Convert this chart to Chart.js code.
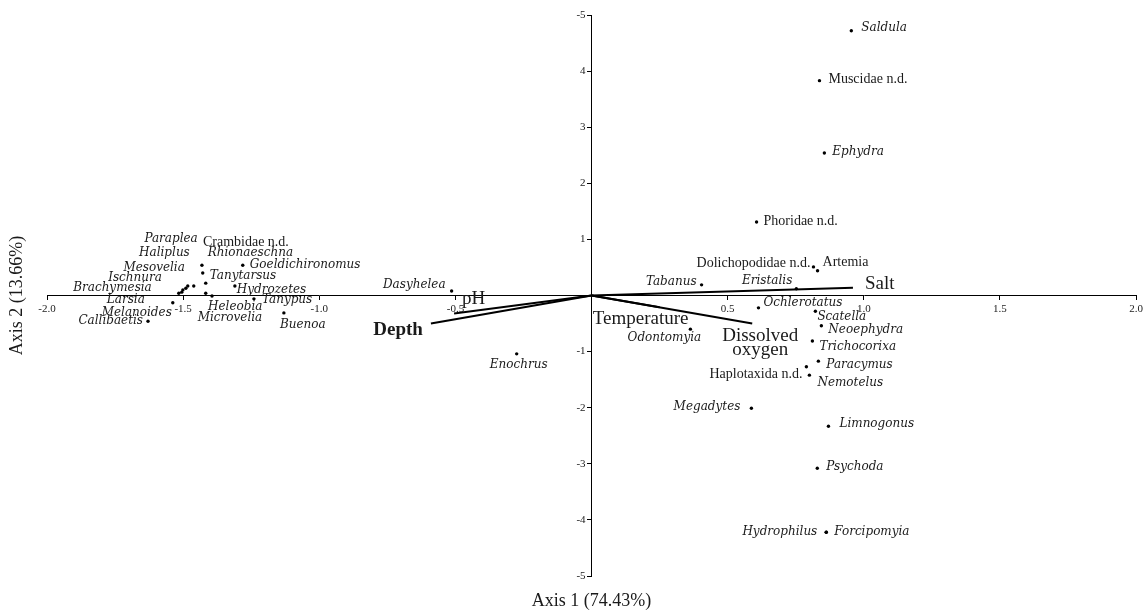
<!DOCTYPE html>
<html>
<head>
<meta charset="utf-8">
<script src="https://cdn.jsdelivr.net/npm/chart.js@4.4.1/dist/chart.umd.min.js"></script>
<style>
  html, body { margin: 0; padding: 0; background: #fff; }
  #wrap { width: 1146px; height: 611px; }
</style>
</head>
<body>
<div id="wrap"><canvas id="cca" width="1146" height="611"></canvas></div>
<script>
// ---- CCA biplot data ----
const taxa = [
  'Saldula', 'Muscidae n.d.', 'Ephydra', 'Phoridae n.d.', 'Dolichopodidae n.d.', 'Artemia',
  'Tabanus', 'Eristalis', 'Ochlerotatus', 'Scatella', 'Neoephydra', 'Trichocorixa',
  'Paracymus', 'Haplotaxida n.d.', 'Nemotelus', 'Odontomyia', 'Megadytes', 'Limnogonus',
  'Psychoda', 'Forcipomyia', 'Hydrophilus', 'Dasyhelea', 'Enochrus',
  'Goeldichironomus', 'Crambidae n.d.', 'Tanytarsus', 'Rhionaeschna', 'Paraplea', 'Haliplus',
  'Mesovelia', 'Ischnura', 'Brachymesia', 'Larsia', 'Hydrozetes', 'Heleobia', 'Microvelia',
  'Tanypus', 'Buenoa', 'Melanoides', 'Callibaetis'
];
const taxaAxis1 = [
  0.954, 0.837, 0.855, 0.606, 0.815, 0.830,
  0.404, 0.752, 0.613, 0.822, 0.844, 0.811,
  0.833, 0.789, 0.800, 0.363, 0.587, 0.870,
  0.829, 0.862, 0.862, -0.514, -0.275,
  -1.281, -1.431, -1.428, -1.417, -1.461, -1.483,
  -1.490, -1.501, -1.505, -1.516, -1.310, -1.394, -1.417,
  -1.240, -1.130, -1.538, -1.629
];
const taxaAxis2 = [
  4.72, 3.83, 2.54, 1.31, 0.51, 0.44,
  0.19, 0.12, -0.22, -0.28, -0.54, -0.81,
  -1.17, -1.27, -1.42, -0.60, -2.01, -2.33,
  -3.08, -4.22, -4.22, 0.08, -1.04,
  0.54, 0.54, 0.40, 0.22, 0.17, 0.17,
  0.13, 0.10, 0.06, 0.04, 0.17, -0.01, 0.04,
  -0.06, -0.31, -0.13, -0.46
];

// environmental variables (biplot arrows)
const envVars = ['Salt', 'Temperature', 'Dissolved oxygen', 'pH', 'Depth'];
const envAxis1 = [0.96, 0.25, 0.59, -0.505, -0.59];
const envAxis2 = [0.14, -0.21, -0.50, -0.32, -0.50];

// axis ticks
const xTicks = [-2.0, -1.5, -1.0, -0.5, 0, 0.5, 1.0, 1.5, 2.0];
const yTicks = [-5, -4, -3, -2, -1, 0, 1, 2, 3, 4, 5];
const yTickText = ['-5', '-4', '-3', '-2', '-1', '', '1', '2', '3', '4', '-5'];

// ---- label styling / placement (pixels from the point) ----
const romanTaxa = ['Muscidae n.d.', 'Phoridae n.d.', 'Dolichopodidae n.d.', 'Artemia', 'Haplotaxida n.d.', 'Crambidae n.d.'];
const taxaLabelPos = {
  'Saldula': [10, -3, 'left'], 'Muscidae n.d.': [9, -1, 'left'], 'Ephydra': [8, -1, 'left'],
  'Phoridae n.d.': [7, -1, 'left'], 'Dolichopodidae n.d.': [-3, -4, 'right'], 'Artemia': [5, -8, 'left'],
  'Tabanus': [-5, -3, 'right'], 'Eristalis': [-4, -8, 'right'], 'Ochlerotatus': [5, -5, 'left'],
  'Scatella': [2, 6, 'left'], 'Neoephydra': [7, 4, 'left'], 'Trichocorixa': [7, 6, 'left'],
  'Paracymus': [8, 4, 'left'], 'Haplotaxida n.d.': [-4, 8, 'right'], 'Nemotelus': [8, 8, 'left'],
  'Odontomyia': [-26, 9, 'center'], 'Megadytes': [-11, -1, 'right'], 'Limnogonus': [11, -2, 'left'],
  'Psychoda': [9, -1, 'left'], 'Forcipomyia': [8, 0, 'left'], 'Hydrophilus': [-9, 0, 'right'],
  'Dasyhelea': [-6, -6, 'right'], 'Enochrus': [2, 11, 'center'],
  'Goeldichironomus': [7, 0, 'left'], 'Crambidae n.d.': [1, -23, 'left'], 'Tanytarsus': [7, 3, 'left'],
  'Rhionaeschna': [2, -30, 'left'], 'Paraplea': [4, -47, 'right'], 'Haliplus': [2, -33, 'right'],
  'Mesovelia': [-1, -20, 'right'], 'Ischnura': [-21, -12, 'right'], 'Brachymesia': [-30, -4, 'right'],
  'Larsia': [-34, 7, 'right'], 'Hydrozetes': [2, 4, 'left'], 'Heleobia': [-4, 11, 'left'],
  'Microvelia': [-8, 25, 'left'], 'Tanypus': [8, 1, 'left'], 'Buenoa': [-4, 12, 'left'],
  'Melanoides': [-1, 10, 'right'], 'Callibaetis': [-5, 0, 'right']
};
const envLabelPos = {
  'Salt': [12, -4, 'left'], 'Temperature': [-19, 12, 'center'],
  'Dissolved oxygen': [8, 12, 'center'], 'pH': [8, -14, 'left'], 'Depth': [-8, 7, 'right']
};

const serif = '"Liberation Serif", "Times New Roman", serif';
const inkColor = '#1a1a1a';

// ---- text overlay: y tick labels, taxa names, arrow names, axis titles ----
const labelPlugin = {
  id: 'ccaLabels',
  afterDatasetsDraw(chart) {
    const { ctx, scales: { x, y } } = chart;
    ctx.save();
    ctx.textBaseline = 'middle';

    // y tick labels sit just left of the crossing axis
    ctx.fillStyle = '#222';
    ctx.font = '11px ' + serif;
    ctx.textAlign = 'right';
    yTicks.forEach((v, i) => {
      ctx.fillText(yTickText[i], x.getPixelForValue(0) - 6, y.getPixelForValue(v));
    });

    ctx.fillStyle = inkColor;
    taxa.forEach((name, i) => {
      const [dx, dy, align] = taxaLabelPos[name];
      const roman = romanTaxa.includes(name);
      ctx.font = roman ? '14px ' + serif : 'italic 12px "DejaVu Serif", serif';
      ctx.textAlign = align;
      ctx.fillText(name, x.getPixelForValue(taxaAxis1[i]) + dx, y.getPixelForValue(taxaAxis2[i]) + dy);
    });

    envVars.forEach((name, i) => {
      const [dx, dy, align] = envLabelPos[name];
      ctx.font = (name === 'Depth' ? 'bold ' : '') + '19px ' + serif;
      ctx.textAlign = align;
      const px = x.getPixelForValue(envAxis1[i]) + dx;
      const py = y.getPixelForValue(envAxis2[i]) + dy;
      if (name === 'Dissolved oxygen') {
        ctx.fillText('Dissolved', px, py);
        ctx.fillText('oxygen', px, py + 14);
      } else {
        ctx.fillText(name, px, py);
      }
    });

    // axis titles
    ctx.font = '18px ' + serif;
    ctx.textAlign = 'center';
    ctx.fillText('Axis 1 (74.43%)', x.getPixelForValue(0), 601);
    ctx.translate(17, y.getPixelForValue(0));
    ctx.rotate(-Math.PI / 2);
    ctx.fillText('Axis 2 (13.66%)', 0, 0);
    ctx.restore();
  }
};

const speciesPoints = taxa.map((_, i) => ({ x: taxaAxis1[i], y: taxaAxis2[i] }));
const arrowSets = envVars.map((name, i) => ({
  label: name,
  data: [{ x: 0, y: 0 }, { x: envAxis1[i], y: envAxis2[i] }],
  showLine: true,
  borderColor: '#000',
  borderWidth: 2,
  pointRadius: 0
}));

const tickFont = { family: serif, size: 11 };

new Chart(document.getElementById('cca'), {
  type: 'scatter',
  data: {
    datasets: [
      { label: 'Taxa', data: speciesPoints, pointRadius: 1.7, pointBackgroundColor: '#000', pointBorderWidth: 0 },
      ...arrowSets
    ]
  },
  options: {
    responsive: false,
    animation: false,
    layout: { padding: { left: 47, right: 9, top: 15, bottom: 35 } },
    plugins: { legend: { display: false }, tooltip: { enabled: false } },
    scales: {
      x: {
        type: 'linear', min: -2, max: 2, position: { y: 0 },
        afterBuildTicks: a => { a.ticks = xTicks.map(v => ({ value: v })); },
        afterFit: a => { a.height = 0; },
        grid: { drawOnChartArea: false, tickLength: 4, color: '#000' },
        border: { color: '#000', width: 1 },
        ticks: {
          color: '#222', font: tickFont, padding: 3, maxRotation: 0, autoSkip: false,
          callback: v => v === 0 ? '' : v.toFixed(1)
        }
      },
      y: {
        type: 'linear', min: -5, max: 5, position: { x: 0 },
        afterBuildTicks: a => { a.ticks = yTicks.map(v => ({ value: v })); },
        afterFit: a => { a.width = 0; },
        grid: { drawOnChartArea: false, tickLength: 4, color: '#000' },
        border: { color: '#000', width: 1 },
        ticks: { display: false }
      }
    }
  },
  plugins: [labelPlugin]
});
</script>
</body>
</html>
